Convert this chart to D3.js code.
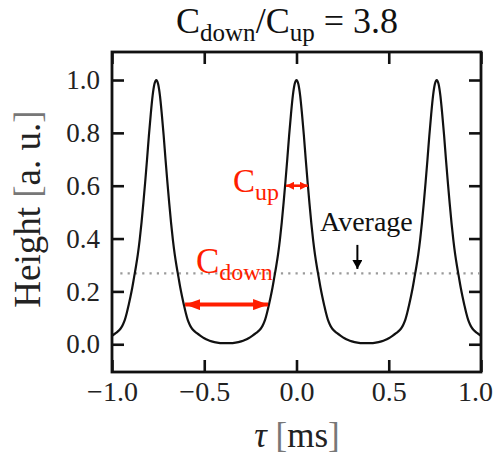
<!DOCTYPE html>
<html>
<head>
<meta charset="utf-8">
<script src="https://cdn.jsdelivr.net/npm/d3@7/dist/d3.min.js"></script>
<style>
  html, body { margin: 0; padding: 0; background: #fff; }
  svg { display: block; }
</style>
</head>
<body>
<svg id="chart" width="498" height="466"></svg>
<script>
// Delay axis τ [ms] and normalized peak height
const tau = [
  -1.00,-0.98,-0.96,-0.95,-0.94,-0.93,-0.92,-0.91,-0.90,-0.89,-0.88,-0.87,-0.86,-0.85,-0.84,-0.83,-0.82,-0.81,-0.80,-0.79,-0.78,-0.77,-0.76,
  -0.75,-0.74,-0.73,-0.72,-0.71,-0.70,-0.69,-0.68,-0.67,-0.66,-0.65,-0.64,-0.63,-0.62,-0.61,-0.60,-0.59,-0.58,-0.57,-0.56,-0.54,-0.52,-0.50,-0.48,-0.46,-0.43,-0.40,-0.38,
  -0.36,-0.33,-0.30,-0.28,-0.26,-0.24,-0.22,-0.20,-0.19,-0.18,-0.17,-0.16,-0.15,-0.14,-0.13,-0.12,-0.11,-0.10,-0.09,-0.08,-0.07,-0.06,-0.05,-0.04,-0.03,-0.02,-0.01,0.00,
  0.01,0.02,0.03,0.04,0.05,0.06,0.07,0.08,0.09,0.10,0.11,0.12,0.13,0.14,0.15,0.16,0.17,0.18,0.19,0.20,0.22,0.24,0.26,0.28,0.30,0.33,0.36,0.38,
  0.40,0.43,0.46,0.48,0.50,0.52,0.54,0.56,0.57,0.58,0.59,0.60,0.61,0.62,0.63,0.64,0.65,0.66,0.67,0.68,0.69,0.70,0.71,0.72,0.73,0.74,0.75,0.76,
  0.77,0.78,0.79,0.80,0.81,0.82,0.83,0.84,0.85,0.86,0.87,0.88,0.89,0.90,0.91,0.92,0.93,0.94,0.95,0.96,0.98,1.00
];
const height = [
  0.032,0.042,0.054,0.063,0.076,0.093,0.118,0.148,0.180,0.215,0.255,0.295,0.340,0.395,0.460,0.535,0.615,0.700,0.790,0.870,0.940,0.985,1.000,
  0.985,0.940,0.870,0.790,0.700,0.615,0.535,0.460,0.395,0.340,0.295,0.255,0.215,0.180,0.148,0.118,0.093,0.076,0.063,0.054,0.042,0.032,0.023,0.016,0.011,0.006,0.004,0.004,
  0.004,0.006,0.011,0.016,0.023,0.032,0.042,0.054,0.063,0.076,0.093,0.118,0.148,0.180,0.215,0.255,0.295,0.340,0.395,0.460,0.535,0.615,0.700,0.790,0.870,0.940,0.985,1.000,
  0.985,0.940,0.870,0.790,0.700,0.615,0.535,0.460,0.395,0.340,0.295,0.255,0.215,0.180,0.148,0.118,0.093,0.076,0.063,0.054,0.042,0.032,0.023,0.016,0.011,0.006,0.004,0.004,
  0.004,0.006,0.011,0.016,0.023,0.032,0.042,0.054,0.063,0.076,0.093,0.118,0.148,0.180,0.215,0.255,0.295,0.340,0.395,0.460,0.535,0.615,0.700,0.790,0.870,0.940,0.985,1.000,
  0.985,0.940,0.870,0.790,0.700,0.615,0.535,0.460,0.395,0.340,0.295,0.255,0.215,0.180,0.148,0.118,0.093,0.076,0.063,0.054,0.042,0.032
];

// Tick values
const xTicks = [-1.0, -0.5, 0.0, 0.5, 1.0];
const yTicks = [0.0, 0.2, 0.4, 0.6, 0.8, 1.0];

// Mean height (dotted reference line)
const averageHeight = 0.268;

// Width markers: [start τ, end τ, height]
const cUpSpan = [-0.062, 0.067, 0.60];
const cDownSpan = [-0.604, -0.154, 0.15];
// "Average" pointer: τ, from height, to height
const averagePointer = [0.33, 0.376, 0.285];

const svg = d3.select("#chart");
const plotLeft = 112, plotRight = 481, plotTop = 52, plotBottom = 372;

const x = d3.scaleLinear().domain([-1, 1]).range([plotLeft, plotRight]);
const y = d3.scaleLinear().domain([-0.105, 1.106]).range([plotBottom, plotTop]);

const serif = "'Liberation Serif', 'Times New Roman', serif";
const red = "#ff1e00";

// Arrowhead markers
const defs = svg.append("defs");
function marker(id, color, w, h) {
  const m = defs.append("marker")
    .attr("id", id)
    .attr("markerUnits", "userSpaceOnUse")
    .attr("viewBox", `0 0 ${w} ${h}`)
    .attr("refX", w).attr("refY", h / 2)
    .attr("markerWidth", w).attr("markerHeight", h)
    .attr("orient", "auto-start-reverse");
  m.append("path").attr("d", `M0,0L${w},${h / 2}L0,${h}Z`).attr("fill", color);
}
marker("redHeadSmall", red, 8, 8);
marker("redHeadBig", red, 15, 11);
marker("blackHead", "#000", 9, 10);

// Dotted average line
svg.append("line")
  .attr("x1", x(-0.955)).attr("x2", x(0.99))
  .attr("y1", y(averageHeight)).attr("y2", y(averageHeight))
  .attr("stroke", "#9a9a9a").attr("stroke-width", 2.2)
  .attr("stroke-dasharray", "2.2 5.1");

// Curve
const points = tau.map((t, i) => [t, height[i]]);
svg.append("path")
  .datum(points)
  .attr("fill", "none")
  .attr("stroke", "#111")
  .attr("stroke-width", 2.2)
  .attr("d", d3.line().x(d => x(d[0])).y(d => y(d[1])).curve(d3.curveMonotoneX));

// Axes with inward ticks on all four sides
const tickLen = 12;
const fmt = d3.format(".1f");
const gB = svg.append("g").attr("transform", `translate(0,${plotBottom})`)
  .call(d3.axisBottom(x).tickValues(xTicks).tickSizeInner(-tickLen).tickSizeOuter(0).tickPadding(9).tickFormat(fmt));
const gL = svg.append("g").attr("transform", `translate(${plotLeft},0)`)
  .call(d3.axisLeft(y).tickValues(yTicks).tickSizeInner(-tickLen).tickSizeOuter(0).tickPadding(12).tickFormat(fmt));
const gT = svg.append("g").attr("transform", `translate(0,${plotTop})`)
  .call(d3.axisTop(x).tickValues(xTicks).tickSizeInner(-tickLen).tickSizeOuter(0).tickFormat(""));
const gR = svg.append("g").attr("transform", `translate(${plotRight},0)`)
  .call(d3.axisRight(y).tickValues(yTicks).tickSizeInner(-tickLen).tickSizeOuter(0).tickFormat(""));

[gB, gL, gT, gR].forEach(g => {
  g.select(".domain").remove();
  g.selectAll(".tick line").attr("stroke", "#111").attr("stroke-width", 2.6);
  g.selectAll(".tick text").attr("fill", "#222").attr("font-family", serif);
});
gB.selectAll(".tick text").attr("font-size", 28);
gL.selectAll(".tick text").attr("font-size", 27);
// keep the last bottom label inside the page
gB.selectAll(".tick text").filter(d => d === 1.0).attr("dx", -6);

// Frame
svg.append("rect")
  .attr("x", plotLeft).attr("y", plotTop)
  .attr("width", plotRight - plotLeft).attr("height", plotBottom - plotTop)
  .attr("fill", "none").attr("stroke", "#111").attr("stroke-width", 2.8);

// Title
const title = svg.append("text")
  .attr("x", 287).attr("y", 33)
  .attr("text-anchor", "middle")
  .attr("font-family", serif).attr("font-size", 36).attr("fill", "#111");
title.append("tspan").text("C");
title.append("tspan").attr("font-size", 25).attr("dy", 8).text("down");
title.append("tspan").attr("dy", -8).text("/C");
title.append("tspan").attr("font-size", 25).attr("dy", 8).text("up");
title.append("tspan").attr("dy", -8).text(" = 3.8");

// Y axis label
const yl = svg.append("text")
  .attr("transform", "translate(40,209) rotate(-90)")
  .attr("text-anchor", "middle")
  .attr("font-family", serif).attr("font-size", 37).attr("fill", "#222");
yl.append("tspan").text("Height ");
yl.append("tspan").attr("fill", "#777").text("[");
yl.append("tspan").text("a. u.");
yl.append("tspan").attr("fill", "#777").text("]");

// X axis label
const xl = svg.append("text")
  .attr("x", 297).attr("y", 447)
  .attr("text-anchor", "middle")
  .attr("font-family", serif).attr("font-size", 35).attr("fill", "#222");
xl.append("tspan").attr("font-style", "italic").text("τ");
xl.append("tspan").text(" ");
xl.append("tspan").attr("fill", "#777").text("[");
xl.append("tspan").text("ms");
xl.append("tspan").attr("fill", "#777").text("]");

// C_up marker
svg.append("line")
  .attr("x1", x(cUpSpan[0]) + 1).attr("x2", x(cUpSpan[1]) - 1)
  .attr("y1", y(cUpSpan[2])).attr("y2", y(cUpSpan[2]))
  .attr("stroke", red).attr("stroke-width", 2.6)
  .attr("marker-start", "url(#redHeadSmall)").attr("marker-end", "url(#redHeadSmall)");
const cup = svg.append("text")
  .attr("x", 233).attr("y", 192)
  .attr("font-family", serif).attr("font-size", 33).attr("fill", red);
cup.append("tspan").text("C");
cup.append("tspan").attr("font-size", 24).attr("dy", 8).text("up");

// C_down marker
svg.append("line")
  .attr("x1", x(cDownSpan[0])).attr("x2", x(cDownSpan[1]))
  .attr("y1", y(cDownSpan[2])).attr("y2", y(cDownSpan[2]))
  .attr("stroke", red).attr("stroke-width", 4)
  .attr("marker-start", "url(#redHeadBig)").attr("marker-end", "url(#redHeadBig)");
const cdown = svg.append("text")
  .attr("x", 196).attr("y", 273)
  .attr("font-family", serif).attr("font-size", 35).attr("fill", red);
cdown.append("tspan").text("C");
cdown.append("tspan").attr("font-size", 24).attr("dy", 7).text("down");

// Average pointer
svg.append("text")
  .attr("x", 320).attr("y", 231)
  .attr("font-family", serif).attr("font-size", 28).attr("fill", "#111")
  .text("Average");
svg.append("line")
  .attr("x1", x(averagePointer[0])).attr("x2", x(averagePointer[0]))
  .attr("y1", y(averagePointer[1])).attr("y2", y(averagePointer[2]))
  .attr("stroke", "#000").attr("stroke-width", 2)
  .attr("marker-end", "url(#blackHead)");
</script>
</body>
</html>
